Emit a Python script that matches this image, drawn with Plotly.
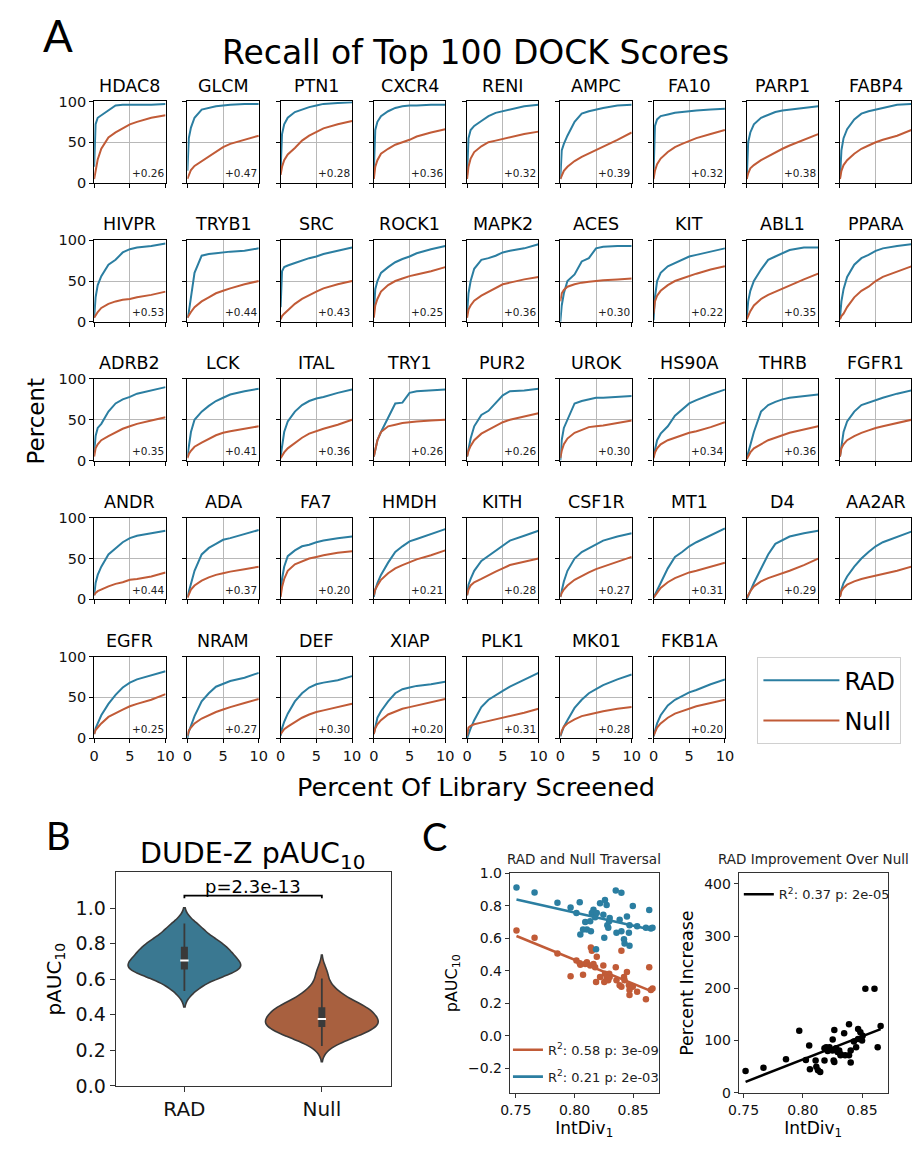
import numpy as np
import plotly.graph_objects as go

W, H = 920, 1150
FONT = "DejaVu Sans"
RAD_COLOR = "#2b7ea1"
NULL_COLOR = "#c15b37"
RAD_FILL = "#3a7891"
NULL_FILL = "#a8603f"

# ---------------- Panel A data ----------------
X_PCT = [0, 0.2, 0.5, 1, 2, 3, 4, 5, 6, 8, 10]

TARGETS = ["HDAC8", "GLCM", "PTN1", "CXCR4", "RENI", "AMPC", "FA10", "PARP1", "FABP4",
           "HIVPR", "TRYB1", "SRC", "ROCK1", "MAPK2", "ACES", "KIT", "ABL1", "PPARA",
           "ADRB2", "LCK", "ITAL", "TRY1", "PUR2", "UROK", "HS90A", "THRB", "FGFR1",
           "ANDR", "ADA", "FA7", "HMDH", "KITH", "CSF1R", "MT1", "D4", "AA2AR",
           "EGFR", "NRAM", "DEF", "XIAP", "PLK1", "MK01", "FKB1A"]

DELTA_LABELS = ["+0.26", "+0.47", "+0.28", "+0.36", "+0.32", "+0.39", "+0.32", "+0.38", "+0.33",
                "+0.53", "+0.44", "+0.43", "+0.25", "+0.36", "+0.30", "+0.22", "+0.35", "+0.28",
                "+0.35", "+0.41", "+0.36", "+0.26", "+0.26", "+0.30", "+0.34", "+0.36", "+0.29",
                "+0.44", "+0.37", "+0.20", "+0.21", "+0.28", "+0.27", "+0.31", "+0.29", "+0.33",
                "+0.25", "+0.27", "+0.30", "+0.20", "+0.31", "+0.28", "+0.20"]

RAD_RECALL = [
    [20, 72, 80, 83, 88, 95, 96, 96, 96, 96, 97],
    [15, 55, 68, 80, 90, 92, 94, 95, 96, 97, 97],
    [15, 60, 72, 80, 87, 90, 93, 95, 97, 98, 99],
    [15, 65, 75, 82, 88, 92, 94, 95, 95, 96, 96],
    [10, 55, 65, 70, 76, 82, 86, 88, 90, 94, 96],
    [5, 40, 48, 58, 75, 85, 88, 90, 92, 95, 96],
    [10, 70, 78, 82, 84, 86, 87, 88, 89, 90, 91],
    [5, 50, 62, 72, 80, 84, 87, 89, 90, 92, 94],
    [5, 40, 55, 66, 78, 85, 88, 90, 92, 96, 97],
    [5, 30, 45, 56, 70, 76, 85, 89, 91, 93, 96],
    [5, 12, 30, 60, 81, 83, 84, 85, 86, 87, 90],
    [18, 62, 67, 69, 72, 75, 78, 80, 83, 87, 91],
    [10, 40, 50, 60, 67, 73, 77, 80, 84, 89, 93],
    [10, 35, 50, 65, 76, 78, 81, 85, 87, 90, 95],
    [0, 20, 35, 50, 58, 74, 78, 90, 92, 93, 93],
    [2, 30, 50, 60, 68, 72, 76, 80, 82, 86, 90],
    [5, 25, 38, 50, 64, 76, 80, 84, 88, 91, 91],
    [5, 25, 40, 55, 70, 78, 82, 87, 90, 93, 95],
    [10, 30, 40, 45, 60, 70, 75, 78, 82, 86, 90],
    [5, 20, 35, 50, 60, 67, 73, 77, 81, 85, 88],
    [5, 20, 35, 48, 60, 68, 73, 76, 78, 83, 87],
    [5, 15, 25, 35, 52, 70, 71, 83, 85, 86, 87],
    [5, 15, 27, 42, 56, 61, 70, 80, 85, 86, 88],
    [0, 25, 40, 50, 70, 73, 75, 77, 77, 78, 79],
    [5, 15, 25, 33, 42, 55, 63, 70, 74, 81, 87],
    [3, 10, 20, 35, 60, 68, 72, 75, 77, 79, 81],
    [5, 20, 35, 48, 60, 68, 71, 74, 77, 82, 86],
    [5, 20, 30, 40, 55, 63, 70, 75, 78, 81, 84],
    [3, 10, 20, 35, 55, 63, 68, 73, 75, 80, 85],
    [5, 25, 40, 53, 60, 65, 67, 70, 72, 75, 77],
    [3, 12, 20, 30, 45, 58, 65, 71, 74, 80, 86],
    [5, 18, 25, 35, 47, 53, 60, 66, 72, 78, 84],
    [3, 12, 22, 35, 50, 58, 63, 68, 72, 77, 81],
    [2, 6, 12, 20, 38, 52, 58, 65, 70, 78, 87],
    [0, 5, 10, 20, 38, 55, 68, 73, 77, 81, 84],
    [3, 12, 20, 28, 40, 50, 58, 65, 70, 77, 83],
    [5, 12, 18, 28, 42, 53, 62, 68, 72, 77, 82],
    [0, 8, 15, 27, 45, 55, 63, 67, 70, 74, 80],
    [3, 12, 20, 30, 45, 55, 62, 66, 68, 71, 76],
    [5, 15, 25, 33, 45, 55, 60, 62, 64, 66, 69],
    [0, 5, 12, 22, 38, 47, 53, 58, 63, 72, 80],
    [2, 8, 14, 22, 37, 47, 55, 60, 65, 72, 78],
    [2, 10, 18, 28, 40, 47, 52, 56, 59, 66, 72],
]

NULL_RECALL = [
    [5, 15, 29, 42, 56, 62, 67, 72, 75, 80, 83],
    [5, 10, 16, 21, 27, 32, 38, 44, 48, 53, 58],
    [10, 20, 28, 35, 43, 52, 58, 63, 67, 72, 76],
    [5, 20, 28, 36, 42, 47, 50, 53, 57, 62, 66],
    [5, 20, 30, 38, 45, 50, 52, 54, 56, 60, 63],
    [5, 10, 15, 20, 27, 32, 36, 40, 44, 53, 62],
    [5, 15, 23, 30, 38, 44, 48, 52, 55, 60, 65],
    [5, 12, 18, 22, 28, 33, 38, 42, 46, 53, 60],
    [5, 15, 22, 28, 36, 42, 46, 50, 53, 58, 65],
    [5, 8, 12, 17, 22, 25, 27, 28, 30, 33, 37],
    [5, 8, 12, 18, 25, 30, 35, 38, 41, 46, 50],
    [3, 7, 10, 14, 22, 28, 33, 37, 41, 46, 50],
    [5, 20, 28, 37, 45, 50, 53, 56, 58, 62, 67],
    [5, 15, 20, 26, 32, 37, 42, 46, 48, 52, 55],
    [25, 35, 39, 43, 46, 48, 49, 50, 51, 52, 53],
    [10, 25, 32, 38, 45, 50, 53, 56, 59, 64, 68],
    [3, 8, 13, 20, 28, 33, 37, 41, 45, 52, 59],
    [3, 7, 10, 18, 30, 38, 43, 50, 55, 62, 68],
    [5, 15, 20, 25, 30, 35, 39, 42, 45, 49, 53],
    [3, 8, 12, 17, 22, 27, 31, 34, 36, 39, 42],
    [3, 6, 10, 15, 22, 28, 33, 36, 39, 44, 50],
    [5, 15, 25, 35, 42, 44, 46, 47, 48, 49, 50],
    [5, 12, 18, 25, 33, 38, 43, 47, 50, 54, 58],
    [3, 12, 20, 27, 34, 38, 41, 42, 43, 46, 49],
    [3, 10, 15, 20, 25, 28, 31, 34, 36, 41, 47],
    [2, 6, 10, 15, 20, 25, 28, 31, 34, 38, 42],
    [5, 15, 20, 25, 30, 34, 37, 40, 42, 46, 50],
    [5, 8, 10, 12, 16, 19, 21, 24, 25, 28, 33],
    [2, 7, 12, 17, 23, 27, 30, 32, 34, 37, 40],
    [3, 15, 25, 35, 43, 47, 50, 52, 54, 57, 59],
    [5, 12, 17, 24, 32, 38, 42, 46, 49, 54, 60],
    [5, 12, 17, 21, 25, 30, 34, 38, 42, 46, 50],
    [3, 8, 12, 17, 24, 29, 33, 37, 40, 46, 52],
    [2, 5, 8, 14, 21, 26, 30, 33, 35, 40, 45],
    [2, 6, 10, 16, 22, 26, 29, 32, 35, 42, 50],
    [3, 10, 14, 18, 22, 25, 27, 29, 31, 35, 40],
    [5, 10, 13, 18, 26, 31, 35, 39, 42, 47, 54],
    [3, 9, 13, 18, 24, 28, 32, 35, 38, 43, 48],
    [5, 8, 11, 14, 20, 25, 29, 32, 34, 38, 42],
    [5, 12, 17, 22, 29, 33, 36, 38, 40, 44, 48],
    [3, 13, 15, 17, 19, 21, 23, 25, 27, 31, 36],
    [3, 9, 14, 18, 23, 27, 29, 31, 33, 36, 38],
    [3, 8, 13, 18, 25, 30, 33, 36, 39, 43, 47],
]

# ---------------- Panel B / C data ----------------
INTDIV = [0.7506, 0.766, 0.7855, 0.7967, 0.8017, 0.8045, 0.805, 0.8073, 0.8092, 0.8106,
          0.8134, 0.814, 0.8148, 0.8162, 0.8176, 0.8184, 0.819, 0.8218, 0.8246, 0.8254,
          0.826, 0.8274, 0.828, 0.8288, 0.8296, 0.83, 0.8352, 0.8358, 0.8385, 0.84,
          0.84, 0.8422, 0.8427, 0.8447, 0.8464, 0.8469, 0.8469, 0.8497, 0.8534, 0.8609,
          0.8637, 0.8651, 0.8665]
RAD_PAUC = [0.913, 0.883, 0.820, 0.790, 0.756, 0.822, 0.624, 0.655, 0.700, 0.655,
            0.705, 0.644, 0.756, 0.776, 0.730, 0.533, 0.756, 0.816, 0.745, 0.604,
            0.836, 0.806, 0.680, 0.665, 0.705, 0.725, 0.895, 0.634, 0.715, 0.881,
            0.644, 0.594, 0.568, 0.735, 0.634, 0.554, 0.681, 0.800, 0.675, 0.665,
            0.774, 0.660, 0.665]
NULL_PAUC = [0.648, 0.604, 0.507, 0.366, 0.463, 0.446, 0.438, 0.376, 0.442, 0.453,
             0.432, 0.543, 0.523, 0.442, 0.422, 0.331, 0.487, 0.362, 0.432, 0.331,
             0.382, 0.352, 0.372, 0.341, 0.382, 0.362, 0.422, 0.341, 0.311, 0.523,
             0.301, 0.362, 0.341, 0.392, 0.311, 0.281, 0.251, 0.301, 0.271, 0.224,
             0.422, 0.281, 0.291]

INTDIV_IMP = [0.7517, 0.7668, 0.7858, 0.797, 0.8026, 0.8054, 0.806, 0.8108, 0.8114, 0.8128,
              0.8147, 0.8183, 0.8183, 0.8197, 0.821, 0.8225, 0.825, 0.8252, 0.826, 0.8266,
              0.8266, 0.828, 0.8293, 0.8307, 0.8318, 0.832, 0.8349, 0.8357, 0.839, 0.839,
              0.8404, 0.8404, 0.8431, 0.845, 0.8467, 0.8467, 0.8486, 0.85, 0.8505, 0.8528,
              0.8605, 0.8632, 0.8657]
PCT_INCREASE = [41.5, 47.8, 64, 119, 63, 90.6, 45, 62, 50, 43,
                40, 62, 85.5, 87, 80, 87, 81, 102, 62, 120,
                59, 85.5, 78, 81, 72, 74, 114, 72, 131, 72,
                81, 58, 98, 87, 122, 103, 116, 100, 109, 199,
                199, 87, 128]

GROUPS = ["RAD", "Null"]
P_TEXT = "p=2.3e-13"
FIT_LABEL_NULL = "R<sup>2</sup>: 0.58 p: 3e-09"
FIT_LABEL_RAD = "R<sup>2</sup>: 0.21 p: 2e-03"
FIT_LABEL_IMP = "R<sup>2</sup>: 0.37 p: 2e-05"


def fx(px):
    return px / W


def fy(py):
    return 1 - py / H


fig = go.Figure()
layout = {}
annotations = []


def axname(n, kind):
    return kind if n == 1 else f"{kind}{n}"


# ---------------- Panel A ----------------
COL_LEFT0, COL_STEP, PW = 85, 95.3, 73
ROW_TOP0, ROW_STEP, PH = 95, 141.1, 83
n_t = len(TARGETS)
for k, name in enumerate(TARGETS):
    r, c = divmod(k, 9)
    n = k + 1
    left = COL_LEFT0 + COL_STEP * c
    right = min(left + PW, W)
    xmax = 10 * (right - left) / PW
    top = ROW_TOP0 + ROW_STEP * r
    bottom = top + PH
    xa, ya = axname(n, "x"), axname(n, "y")
    fig.add_trace(go.Scatter(x=X_PCT, y=RAD_RECALL[k], mode="lines", xaxis=xa, yaxis=ya,
                             line=dict(color=RAD_COLOR, width=2), name="RAD",
                             showlegend=(k == 0), legend="legend", legendgroup="rad"))
    fig.add_trace(go.Scatter(x=X_PCT, y=NULL_RECALL[k], mode="lines", xaxis=xa, yaxis=ya,
                             line=dict(color=NULL_COLOR, width=2), name="Null",
                             showlegend=(k == 0), legend="legend", legendgroup="null"))
    show_x = (r == (n_t - 1) // 9)
    layout[f"xaxis{'' if n == 1 else n}"] = dict(
        domain=[fx(left), fx(right)], anchor=ya, range=[0, xmax],
        tickvals=[0, 5, 10], showticklabels=show_x, ticks="outside", ticklen=4,
        tickwidth=1, tickcolor="black", showline=True, linecolor="black", linewidth=1.2,
        mirror=True, showgrid=True, gridcolor="#b8b8b8", gridwidth=1, zeroline=False,
        tickfont=dict(size=14.5, color="#111"))
    layout[f"yaxis{'' if n == 1 else n}"] = dict(
        domain=[fy(bottom), fy(top)], anchor=xa, range=[0, 100],
        tickvals=[0, 50, 100], showticklabels=(c == 0), ticks="outside", ticklen=4,
        tickwidth=1, tickcolor="black", showline=True, linecolor="black", linewidth=1.2,
        mirror=True, showgrid=True, gridcolor="#b8b8b8", gridwidth=1, zeroline=False,
        tickfont=dict(size=14.5, color="#111"))
    annotations.append(dict(text=name, xref="paper", yref="paper",
                            x=fx(left + PW / 2), y=fy(top - 16), xanchor="center",
                            yanchor="middle", showarrow=False,
                            font=dict(size=17.5, color="black")))
    annotations.append(dict(text=DELTA_LABELS[k], xref=xa, yref=ya, x=10, y=2,
                            xanchor="right", yanchor="bottom", showarrow=False,
                            font=dict(size=10.5, color="#222")))

annotations += [
    dict(text="A", xref="paper", yref="paper", x=fx(48), y=fy(27), showarrow=False,
         xanchor="center", yanchor="middle", font=dict(size=44, family="Lato", color="black")),
    dict(text="Recall of Top 100 DOCK Scores", xref="paper", yref="paper", x=fx(475),
         y=fy(45), showarrow=False, xanchor="center", yanchor="middle",
         font=dict(size=33, color="black")),
    dict(text="Percent", xref="paper", yref="paper", x=fx(26), y=fy(420), textangle=-90,
         showarrow=False, xanchor="center", yanchor="middle", font=dict(size=23, color="black")),
    dict(text="Percent Of Library Screened", xref="paper", yref="paper", x=fx(475),
         y=fy(792), showarrow=False, xanchor="center", yanchor="middle",
         font=dict(size=25.5, color="black")),
]

# ---------------- Panel B ----------------
nb = n_t + 1
xb, yb = axname(nb, "x"), axname(nb, "y")
for vals, grp, fill in [(RAD_PAUC, GROUPS[0], RAD_FILL), (NULL_PAUC, GROUPS[1], NULL_FILL)]:
    arr = np.array(vals)
    bw = arr.std(ddof=1) * len(arr) ** (-1 / 5)
    fig.add_trace(go.Violin(x=[grp] * len(arr), y=arr, xaxis=xb, yaxis=yb, width=0.82,
                            bandwidth=bw, spanmode="soft", points=False, scalemode="width",
                            fillcolor=fill, opacity=1, line=dict(color="#3a3a3a", width=1.6),
                            box_visible=False, meanline_visible=False, showlegend=False,
                            hoverinfo="skip"))
    q1, med, q3 = np.percentile(arr, [25, 50, 75])
    iqr = q3 - q1
    lo = arr[arr >= q1 - 1.5 * iqr].min()
    hi = arr[arr <= q3 + 1.5 * iqr].max()
    fig.add_trace(go.Scatter(x=[grp, grp], y=[lo, hi], mode="lines", xaxis=xb, yaxis=yb,
                             line=dict(color="#3a3a3a", width=1.8), showlegend=False))
    fig.add_trace(go.Scatter(x=[grp, grp], y=[q1, q3], mode="lines", xaxis=xb, yaxis=yb,
                             line=dict(color="#3a3a3a", width=7), showlegend=False))
    fig.add_trace(go.Scatter(x=[grp], y=[med], mode="markers", xaxis=xb, yaxis=yb,
                             marker=dict(symbol="line-ew", size=6,
                                         line=dict(color="white", width=1.8)),
                             showlegend=False))

# significance bracket
br_y = 1.07
fig.add_trace(go.Scatter(x=[GROUPS[0], GROUPS[0], GROUPS[1], GROUPS[1]],
                         y=[br_y - 0.015, br_y, br_y, br_y - 0.015], mode="lines",
                         xaxis=xb, yaxis=yb, line=dict(color="black", width=1.8),
                         showlegend=False))
annotations.append(dict(text=P_TEXT, xref=xb, yref=yb, x=0.5, y=br_y, yanchor="bottom",
                        xanchor="center", showarrow=False, yshift=-3,
                        font=dict(size=18, color="black")))

layout[f"xaxis{nb}"] = dict(domain=[fx(107), fx(388)], anchor=yb, type="category",
                            range=[-0.5, 1.5], ticks="outside", ticklen=5, tickwidth=1,
                            tickcolor="#333", showline=True, linecolor="#333", linewidth=1.2,
                            mirror=True, showgrid=False, zeroline=False,
                            tickfont=dict(size=20, color="#111"))
layout[f"yaxis{nb}"] = dict(domain=[fy(1096), fy(879)], anchor=xb, range=[0, 1.2],
                            tickvals=[0, 0.2, 0.4, 0.6, 0.8, 1.0], tickformat=".1f",
                            ticks="outside", ticklen=5, tickwidth=1, tickcolor="#333",
                            showline=True, linecolor="#333", linewidth=1.2, mirror=True,
                            showgrid=False, zeroline=False, tickfont=dict(size=19, color="#111"),
                            title=dict(text="pAUC<sub>10</sub>", font=dict(size=20, color="black"),
                                       standoff=8))
annotations += [
    dict(text="B", xref="paper", yref="paper", x=fx(49), y=fy(841), showarrow=False,
         xanchor="center", yanchor="middle", font=dict(size=38, family="Lato", color="black")),
    dict(text="DUDE-Z pAUC<sub>10</sub>", xref="paper", yref="paper", x=fx(247),
         y=fy(862), showarrow=False, xanchor="center", yanchor="middle",
         font=dict(size=28.5, color="black")),
]

# ---------------- Panel C left ----------------
nc1 = nb + 1
xc1, yc1 = axname(nc1, "x"), axname(nc1, "y")
xd = np.array(INTDIV)
for vals, color in [(NULL_PAUC, NULL_COLOR), (RAD_PAUC, RAD_COLOR)]:
    fig.add_trace(go.Scatter(x=xd, y=np.array(vals), mode="markers", xaxis=xc1, yaxis=yc1,
                             marker=dict(color=color, size=6.5), showlegend=False))
for vals, color, label in [(NULL_PAUC, NULL_COLOR, FIT_LABEL_NULL),
                           (RAD_PAUC, RAD_COLOR, FIT_LABEL_RAD)]:
    yv = np.array(vals)
    m, b = np.polyfit(xd, yv, 1)
    xs = np.array([xd.min(), xd.max()])
    fig.add_trace(go.Scatter(x=xs, y=m * xs + b, mode="lines", xaxis=xc1, yaxis=yc1,
                             line=dict(color=color, width=2.6), name=label,
                             legend="legend2", legendgroup=label))

CTICK = dict(size=14, color="#111")
layout[f"xaxis{nc1}"] = dict(domain=[fx(510), fx(662)], anchor=yc1, range=[0.745, 0.8717],
                             tickvals=[0.75, 0.80, 0.85], tickformat=".2f", ticks="outside",
                             ticklen=4, tickwidth=1, tickcolor="#333", showline=True,
                             linecolor="#333", linewidth=1.2, mirror=True, showgrid=False,
                             zeroline=False, tickfont=CTICK,
                             title=dict(text="IntDiv<sub>1</sub>", font=dict(size=17, color="black"),
                                        standoff=3))
layout[f"yaxis{nc1}"] = dict(domain=[fy(1103), fy(880)], anchor=xc1, range=[-0.352, 1.0],
                             tickvals=[-0.2, 0, 0.2, 0.4, 0.6, 0.8, 1.0], tickformat=".1f",
                             ticks="outside", ticklen=4, tickwidth=1, tickcolor="#333",
                             showline=True, linecolor="#333", linewidth=1.2, mirror=True,
                             showgrid=False, zeroline=False, tickfont=CTICK,
                             title=dict(text="pAUC<sub>10</sub>", font=dict(size=16, color="black"),
                                        standoff=6))

# ---------------- Panel C right ----------------
nc2 = nc1 + 1
xc2, yc2 = axname(nc2, "x"), axname(nc2, "y")
xi = np.array(INTDIV_IMP)
yi = np.array(PCT_INCREASE)
fig.add_trace(go.Scatter(x=xi, y=yi, mode="markers", xaxis=xc2, yaxis=yc2,
                         marker=dict(color="black", size=6.5), showlegend=False))
m, b = np.polyfit(xi, yi, 1)
xs = np.array([xi.min(), xi.max()])
fig.add_trace(go.Scatter(x=xs, y=m * xs + b, mode="lines", xaxis=xc2, yaxis=yc2,
                         line=dict(color="black", width=2.6), name=FIT_LABEL_IMP,
                         legend="legend3"))
layout[f"xaxis{nc2}"] = dict(domain=[fx(744), fx(896)], anchor=yc2, range=[0.746, 0.8715],
                             tickvals=[0.75, 0.80, 0.85], tickformat=".2f", ticks="outside",
                             ticklen=4, tickwidth=1, tickcolor="#333", showline=True,
                             linecolor="#333", linewidth=1.2, mirror=True, showgrid=False,
                             zeroline=False, tickfont=CTICK,
                             title=dict(text="IntDiv<sub>1</sub>", font=dict(size=17, color="black"),
                                        standoff=3))
layout[f"yaxis{nc2}"] = dict(domain=[fy(1103), fy(880)], anchor=xc2, range=[0, 420],
                             tickvals=[0, 100, 200, 300, 400], ticks="outside", ticklen=4,
                             tickwidth=1, tickcolor="#333", showline=True, linecolor="#333",
                             linewidth=1.2, mirror=True, showgrid=False, zeroline=False,
                             tickfont=CTICK,
                             title=dict(text="Percent Increase", font=dict(size=17.5, color="black"),
                                        standoff=6))
annotations += [
    dict(text="C", xref="paper", yref="paper", x=fx(433), y=fy(842), showarrow=False,
         xanchor="center", yanchor="middle", font=dict(size=38, family="Lato", color="black")),
    dict(text="RAD and Null Traversal", xref="paper", yref="paper", x=fx(586), y=fy(865),
         showarrow=False, xanchor="center", yanchor="middle", font=dict(size=13.5, color="#222")),
    dict(text="RAD Improvement Over Null", xref="paper", yref="paper", x=fx(820), y=fy(865),
         showarrow=False, xanchor="center", yanchor="middle", font=dict(size=13.5, color="#222")),
]

fig.update_layout(
    **layout,
    width=W, height=H, autosize=False,
    margin=dict(l=0, r=0, t=0, b=0),
    paper_bgcolor="white", plot_bgcolor="white",
    font=dict(family=FONT, color="black"),
    violinmode="overlay",
    annotations=annotations,
    legend=dict(x=fx(763), y=fy(660), xanchor="left", yanchor="top",
                font=dict(size=24, color="black"), bordercolor="#d0d0d0", borderwidth=1,
                bgcolor="white", itemwidth=76, tracegroupgap=6),
    legend2=dict(x=fx(508), y=fy(1044), xanchor="left", yanchor="top",
                 font=dict(size=13, color="#222"), bgcolor="rgba(0,0,0,0)",
                 borderwidth=0, tracegroupgap=7),
    legend3=dict(x=fx(744), y=fy(886), xanchor="left", yanchor="top",
                 font=dict(size=13, color="#222"), bgcolor="rgba(0,0,0,0)", borderwidth=0),
)

fig.write_html("out.html", config={"displayModeBar": False},
               post_script="document.body.style.margin='0px';document.body.style.padding='0px';")
